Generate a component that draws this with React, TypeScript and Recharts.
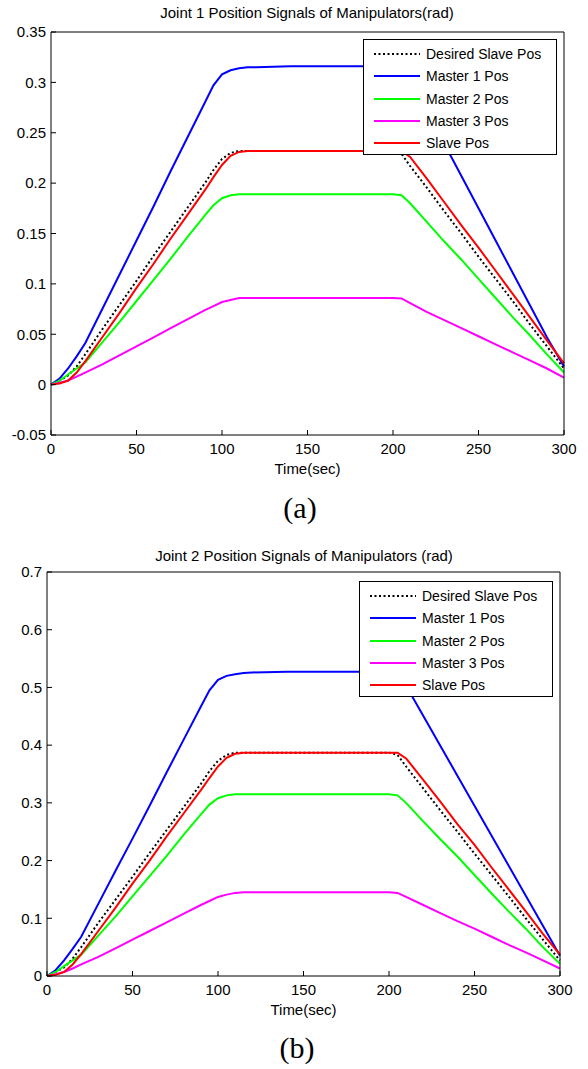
import React from "react";
import { LineChart, Line, XAxis, YAxis, Legend } from "recharts";

// sample times (sec)
const time = [
  0, 5, 10, 15, 20, 30, 40, 50, 60, 70, 80, 90, 95, 100, 105, 110, 115, 120,
  140, 160, 180, 200, 205, 210, 220, 230, 240, 250, 260, 270, 280, 290, 300,
];

// Joint 1 (rad)
const desired1 = [
  0, 0.004, 0.009, 0.018, 0.03, 0.055, 0.079, 0.103, 0.128, 0.152, 0.176, 0.2,
  0.213, 0.224, 0.23, 0.232, 0.232, 0.232, 0.232, 0.232, 0.232, 0.232, 0.229,
  0.217, 0.195, 0.172, 0.15, 0.127, 0.105, 0.083, 0.06, 0.038, 0.016,
];
const master1J1 = [
  0, 0.006, 0.016, 0.028, 0.041, 0.075, 0.109, 0.143, 0.177, 0.212, 0.246, 0.28,
  0.297, 0.308, 0.312, 0.314, 0.315, 0.315, 0.316, 0.316, 0.316, 0.316, 0.315,
  0.304, 0.271, 0.239, 0.207, 0.175, 0.143, 0.111, 0.079, 0.047, 0.018,
];
const master2J1 = [
  0, 0.004, 0.01, 0.016, 0.022, 0.042, 0.062, 0.083, 0.104, 0.125, 0.147, 0.168,
  0.178, 0.185, 0.188, 0.189, 0.189, 0.189, 0.189, 0.189, 0.189, 0.189, 0.188,
  0.18, 0.161, 0.142, 0.124, 0.105, 0.086, 0.067, 0.049, 0.03, 0.012,
];
const master3J1 = [
  0, 0.002, 0.004, 0.008, 0.012, 0.02, 0.029, 0.038, 0.047, 0.056, 0.065, 0.074,
  0.078, 0.082, 0.084, 0.086, 0.086, 0.086, 0.086, 0.086, 0.086, 0.086, 0.0855,
  0.081, 0.072, 0.064, 0.056, 0.048, 0.04, 0.032, 0.024, 0.016, 0.007,
];
const slave1 = [
  0, 0.001, 0.004, 0.012, 0.023, 0.047, 0.071, 0.096, 0.12, 0.145, 0.169, 0.193,
  0.206, 0.218, 0.227, 0.231, 0.232, 0.232, 0.232, 0.232, 0.232, 0.232, 0.232,
  0.226, 0.204, 0.181, 0.158, 0.136, 0.113, 0.09, 0.067, 0.044, 0.021,
];

// Joint 2 (rad)
const desired2 = [
  0, 0.007, 0.015, 0.03, 0.05, 0.092, 0.132, 0.172, 0.213, 0.253, 0.293, 0.333,
  0.355, 0.373, 0.383, 0.387, 0.387, 0.387, 0.387, 0.387, 0.387, 0.387, 0.383,
  0.363, 0.325, 0.287, 0.25, 0.212, 0.175, 0.138, 0.1, 0.063, 0.027,
];
const master1J2 = [
  0, 0.01, 0.027, 0.047, 0.068, 0.125, 0.182, 0.238, 0.295, 0.353, 0.41, 0.467,
  0.495, 0.513, 0.52, 0.523, 0.525, 0.526, 0.527, 0.527, 0.527, 0.527, 0.525,
  0.503, 0.451, 0.399, 0.347, 0.295, 0.243, 0.191, 0.139, 0.087, 0.035,
];
const master2J2 = [
  0, 0.007, 0.017, 0.027, 0.037, 0.07, 0.103, 0.138, 0.173, 0.208, 0.245, 0.28,
  0.297, 0.308, 0.313, 0.315, 0.315, 0.315, 0.315, 0.315, 0.315, 0.315, 0.313,
  0.3, 0.268, 0.237, 0.207, 0.175, 0.143, 0.112, 0.082, 0.05, 0.021,
];
const master3J2 = [
  0, 0.003, 0.007, 0.013, 0.02, 0.033, 0.048, 0.063, 0.078, 0.093, 0.108, 0.123,
  0.13, 0.137, 0.141, 0.144, 0.145, 0.145, 0.145, 0.145, 0.145, 0.145, 0.144,
  0.137, 0.123, 0.109, 0.095, 0.082, 0.068, 0.054, 0.041, 0.027, 0.013,
];
const slave2 = [
  0, 0.002, 0.007, 0.02, 0.038, 0.078, 0.118, 0.16, 0.2, 0.242, 0.282, 0.322,
  0.343, 0.363, 0.378, 0.385, 0.387, 0.387, 0.387, 0.387, 0.387, 0.387, 0.387,
  0.377, 0.34, 0.302, 0.263, 0.227, 0.188, 0.15, 0.112, 0.073, 0.037,
];

const xTicks = [0, 50, 100, 150, 200, 250, 300];
const yTicks1 = [-0.05, 0, 0.05, 0.1, 0.15, 0.2, 0.25, 0.3, 0.35];
const yTicks2 = [0, 0.1, 0.2, 0.3, 0.4, 0.5, 0.6, 0.7];

const seriesKeys = ["desired", "m1", "m2", "m3", "slave"];
const seriesNames = [
  "Desired Slave Pos",
  "Master 1 Pos",
  "Master 2 Pos",
  "Master 3 Pos",
  "Slave Pos",
];
const seriesColors = ["#000000", "#0000ff", "#00ff00", "#ff00ff", "#ff0000"];

const FONT = "'Liberation Sans', Arial, Helvetica, sans-serif";

function toRows(series: number[][]) {
  return time.map((t, i) => {
    const row: Record<string, number> = { t };
    seriesKeys.forEach((k, j) => {
      row[k] = series[j][i];
    });
    return row;
  });
}

const rows1 = toRows([desired1, master1J1, master2J1, master3J1, slave1]);
const rows2 = toRows([desired2, master1J2, master2J2, master3J2, slave2]);

const fmt = (v: number) => String(Number(v.toFixed(2)));

const renderLegend = () => (
  <div
    style={{
      width: 194,
      height: 116,
      boxSizing: "border-box",
      border: "1px solid #000",
      background: "#fff",
      paddingTop: 3,
      fontFamily: FONT,
      fontSize: 14,
      color: "#000",
    }}
  >
    {seriesNames.map((name, i) => (
      <div
        key={name}
        style={{ display: "flex", alignItems: "center", height: 22.25 }}
      >
        <svg width={56} height={10} style={{ flex: "none" }}>
          <line
            x1={10}
            x2={56}
            y1={5}
            y2={5}
            stroke={seriesColors[i]}
            strokeWidth={2}
            strokeDasharray={i === 0 ? "2 2.5" : undefined}
          />
        </svg>
        <span style={{ marginLeft: 6, whiteSpace: "nowrap" }}>{name}</span>
      </div>
    ))}
  </div>
);

type PanelProps = {
  top: number;
  title: string;
  titleX: number;
  titleY: number;
  tag: string;
  tagX: number;
  rows: Record<string, number>[];
  yTicks: number[];
  margin: { top: number; right: number; bottom: number; left: number };
  legendPos: { left: number; top: number };
};

function Panel({
  top,
  title,
  titleX,
  titleY,
  tag,
  tagX,
  rows,
  yTicks,
  margin,
  legendPos,
}: PanelProps) {
  const domain: [number, number] = [yTicks[0], yTicks[yTicks.length - 1]];
  const tickStyle = { fontSize: 15, fontFamily: FONT, fill: "#000" };
  return (
    <div style={{ position: "absolute", left: 0, top, width: 588, height: 530 }}>
      <LineChart width={588} height={480} data={rows} margin={margin}>
        <XAxis
          dataKey="t"
          type="number"
          domain={[0, 300]}
          ticks={xTicks}
          height={30}
          tickSize={-5}
          tickMargin={13}
          tick={tickStyle}
          axisLine={{ stroke: "#000" }}
          tickLine={{ stroke: "#000" }}
          label={{
            value: "Time(sec)",
            position: "insideBottom",
            offset: -9,
            style: { fontSize: 15, fontFamily: FONT, fill: "#000" },
          }}
        />
        <XAxis
          xAxisId="top"
          orientation="top"
          dataKey="t"
          type="number"
          domain={[0, 300]}
          ticks={xTicks}
          height={4}
          tickSize={-5}
          tick={false}
          axisLine={{ stroke: "#000" }}
          tickLine={{ stroke: "#000" }}
        />
        <YAxis
          type="number"
          domain={domain}
          ticks={yTicks}
          width={40}
          tickSize={-5}
          tickMargin={10}
          tick={tickStyle}
          tickFormatter={fmt}
          axisLine={{ stroke: "#000" }}
          tickLine={{ stroke: "#000" }}
        />
        <YAxis
          yAxisId="right"
          orientation="right"
          type="number"
          domain={domain}
          ticks={yTicks}
          width={4}
          tickSize={-5}
          tick={false}
          axisLine={{ stroke: "#000" }}
          tickLine={{ stroke: "#000" }}
        />
        <Legend
          layout="vertical"
          align="center"
          verticalAlign="middle"
          content={renderLegend}
          wrapperStyle={{
            left: legendPos.left,
            top: legendPos.top,
            width: 194,
            height: 116,
          }}
        />
        {seriesKeys.map((k, i) => (
          <Line
            key={k}
            type="linear"
            dataKey={k}
            name={seriesNames[i]}
            stroke={seriesColors[i]}
            strokeWidth={2}
            strokeDasharray={i === 0 ? "2 2.5" : undefined}
            dot={false}
            activeDot={false}
            isAnimationActive={false}
          />
        ))}
      </LineChart>
      <svg
        width={588}
        height={530}
        style={{ position: "absolute", left: 0, top: 0, pointerEvents: "none" }}
      >
        <text
          x={titleX}
          y={titleY}
          textAnchor="middle"
          fontFamily={FONT}
          fontSize={15}
          fill="#000"
        >
          {title}
        </text>
        <text
          x={tagX}
          y={518}
          textAnchor="middle"
          fontFamily="'Liberation Serif', 'Times New Roman', serif"
          fontSize={30}
          fill="#000"
        >
          {tag}
        </text>
      </svg>
    </div>
  );
}

export default function App() {
  return (
    <div
      style={{
        position: "absolute",
        left: 0,
        top: 0,
        width: 588,
        height: 1069,
        background: "#fff",
      }}
    >
      <Panel
        top={0}
        title="Joint 1 Position Signals of Manipulators(rad)"
        titleX={307}
        titleY={18}
        tag="(a)"
        tagX={300}
        rows={rows1}
        yTicks={yTicks1}
        margin={{ top: 28, right: 20, bottom: 15, left: 11 }}
        legendPos={{ left: 363, top: 39 }}
      />
      <Panel
        top={540}
        title="Joint 2 Position Signals of Manipulators (rad)"
        titleX={304}
        titleY={21}
        tag="(b)"
        tagX={297}
        rows={rows2}
        yTicks={yTicks2}
        margin={{ top: 28, right: 24, bottom: 14, left: 7 }}
        legendPos={{ left: 359, top: 41 }}
      />
    </div>
  );
}
